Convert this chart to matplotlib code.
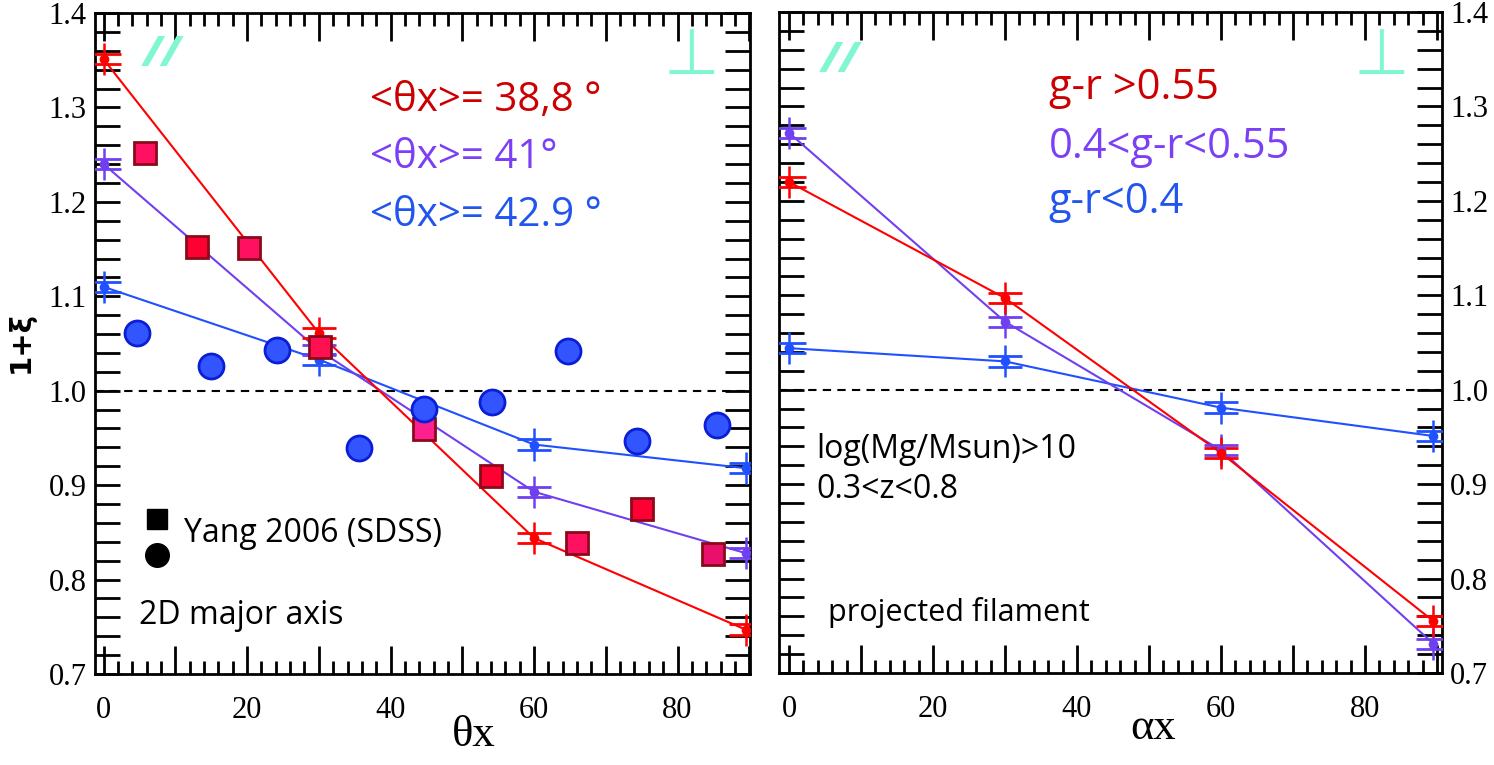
import matplotlib
matplotlib.use('Agg')
import matplotlib.pyplot as plt
from matplotlib.ticker import MultipleLocator, FuncFormatter

# Data: left panel (2D major axis), bins in theta_x
theta = [0, 30, 60, 89.5]
red_l = [1.351, 1.061, 0.844, 0.747]
purple_l = [1.240, 1.043, 0.893, 0.828]
blue_l = [1.110, 1.033, 0.943, 0.918]

# Yang 2006 (SDSS) points
yang_sq_x = [5.8, 13.0, 20.3, 30.2, 44.6, 54.0, 66.0, 75.0, 85.0]
yang_sq_y = [1.252, 1.152, 1.151, 1.046, 0.959, 0.910, 0.839, 0.875, 0.827]
yang_sq_col = ['#FF1060', '#FF0033', '#FF1060', '#FF1050', '#FF2090',
               '#FF0033', '#FF1060', '#FF0033', '#E8106A']
yang_ci_x = [4.6, 15.0, 24.2, 35.6, 44.6, 54.2, 64.8, 74.4, 85.5]
yang_ci_y = [1.061, 1.026, 1.043, 0.939, 0.981, 0.988, 1.042, 0.947, 0.964]

# right panel (projected filament), bins in alpha_x
alpha = [0, 30, 60, 89.5]
red_r = [1.220, 1.097, 0.933, 0.755]
purple_r = [1.272, 1.072, 0.936, 0.731]
blue_r = [1.044, 1.030, 0.981, 0.951]

# error bars: vertical extent and cap offset
err_bar = 0.017
err_cap = 0.0055

c_red, c_pur, c_blu = '#FF0000', '#7040F0', '#2050FF'
t_red, t_pur, t_blu = '#CC0000', '#7B3FF5', '#2255EE'
aqua = '#80F7D2'
sans = ['Open Sans', 'DejaVu Sans']

plt.rcParams['font.family'] = ['Liberation Serif', 'DejaVu Serif']

fig = plt.figure(figsize=(14.94, 7.65), dpi=100)
W, H = 1494, 765
ax1 = fig.add_axes([95 / W, 1 - 674 / H, 655 / W, 661 / H])
ax2 = fig.add_axes([779 / W, 1 - 673 / H, 663 / W, 661 / H])


def draw_series(ax, x, y, col):
    ax.plot(x, y, color=col, lw=1.5, zorder=3)
    ax.errorbar(x, y, yerr=err_bar, fmt='o', color=col, ms=6, elinewidth=1.8,
                capsize=0, zorder=4)
    ax.plot(x, [v + err_cap for v in y], ls='none', marker='_', ms=24, mew=2,
            color=col, zorder=4)
    ax.plot(x, [v - err_cap for v in y], ls='none', marker='_', ms=24, mew=2,
            color=col, zorder=4)


def style(ax, xlim, right):
    ax.set_xlim(*xlim)
    ax.set_ylim(0.7, 1.4)
    ax.axhline(1.0, color='black', ls=(0, (4, 3)), lw=1.5, zorder=1)
    ax.xaxis.set_major_locator(MultipleLocator(10))
    ax.xaxis.set_minor_locator(MultipleLocator(2))
    ax.xaxis.set_major_formatter(FuncFormatter(
        lambda v, p: '%d' % v if int(round(v)) % 20 == 0 else ''))
    ax.yaxis.set_major_locator(MultipleLocator(0.1))
    ax.yaxis.set_minor_locator(MultipleLocator(0.02))
    ax.yaxis.set_major_formatter(FuncFormatter(lambda v, p: '%.1f' % v))
    ax.tick_params(axis='both', which='both', direction='in', top=True,
                   right=True, width=2, labelsize=22)
    ax.tick_params(axis='x', which='major', length=20, pad=16)
    ax.tick_params(axis='x', which='minor', length=9.5)
    ax.tick_params(axis='y', which='both', length=18, pad=6)
    if right:
        ax.tick_params(axis='y', which='both', labelleft=False, labelright=True)
    for s in ax.spines.values():
        s.set_linewidth(2)


style(ax1, (-1.2, 90.1), False)
style(ax2, (-1.4, 90.7), True)

# left panel
ax1.plot(yang_ci_x, yang_ci_y, 'o', ls='none', ms=18, mfc='#3355FF',
         mec='#0A1ED8', mew=2, zorder=6)
for xs, ys, fc in zip(yang_sq_x, yang_sq_y, yang_sq_col):
    ax1.plot(xs, ys, 's', ms=16, mfc=fc, mec='#8B0A1A', mew=2, zorder=5)
draw_series(ax1, theta, blue_l, c_blu)
draw_series(ax1, theta, purple_l, c_pur)
draw_series(ax1, theta, red_l, c_red)

ax1.text(0.42, 0.868, '<θx>= 38,8 °', color=t_red, fontsize=29, family=sans,
         transform=ax1.transAxes, va='center')
ax1.text(0.42, 0.781, '<θx>= 41°', color=t_pur, fontsize=29, family=sans,
         transform=ax1.transAxes, va='center')
ax1.text(0.42, 0.694, '<θx>= 42.9 °', color=t_blu, fontsize=29, family=sans,
         transform=ax1.transAxes, va='center')
ax1.text(0.102, 0.936, '//', color=aqua, fontsize=30, weight='heavy',
         style='italic', family=sans, transform=ax1.transAxes,
         ha='center', va='center')
ax1.text(0.911, 0.935, '⊥', color=aqua, fontsize=46, family='DejaVu Sans',
         transform=ax1.transAxes, ha='center', va='center')
ax1.plot([0.095], [0.234], 's', color='black', ms=15, transform=ax1.transAxes)
ax1.plot([0.095], [0.180], 'o', color='black', ms=17, transform=ax1.transAxes)
ax1.text(0.136, 0.213, 'Yang 2006 (SDSS)', fontsize=23, family=sans,
         transform=ax1.transAxes, va='center')
ax1.text(0.067, 0.089, '2D major axis', fontsize=23, family=sans,
         transform=ax1.transAxes, va='center')

# right panel
draw_series(ax2, alpha, blue_r, c_blu)
draw_series(ax2, alpha, purple_r, c_pur)
draw_series(ax2, alpha, red_r, c_red)

ax2.text(0.407, 0.885, 'g-r >0.55', color=t_red, fontsize=30, family=sans,
         transform=ax2.transAxes, va='center')
ax2.text(0.407, 0.796, '0.4<g-r<0.55', color=t_pur, fontsize=30, family=sans,
         transform=ax2.transAxes, va='center')
ax2.text(0.407, 0.713, 'g-r<0.4', color=t_blu, fontsize=30, family=sans,
         transform=ax2.transAxes, va='center')
ax2.text(0.092, 0.926, '//', color=aqua, fontsize=30, weight='heavy',
         style='italic', family=sans, transform=ax2.transAxes,
         ha='center', va='center')
ax2.text(0.909, 0.933, '⊥', color=aqua, fontsize=46, family='DejaVu Sans',
         transform=ax2.transAxes, ha='center', va='center')
ax2.text(0.056, 0.338, 'log(Mg/Msun)>10', fontsize=23, family=sans,
         transform=ax2.transAxes, va='center')
ax2.text(0.056, 0.277, '0.3<z<0.8', fontsize=23, family=sans,
         transform=ax2.transAxes, va='center')
ax2.text(0.074, 0.091, 'projected filament', fontsize=22, family=sans,
         transform=ax2.transAxes, va='center')

# axis labels
fig.text(0.317, 0.039, 'θx', fontsize=32, ha='center', va='center')
fig.text(0.772, 0.048, 'αx', fontsize=32, ha='center', va='center')
fig.text(0.014, 0.553, '1+ξ', fontsize=21, rotation=90, family='DejaVu Sans',
         weight='bold', ha='center', va='center')

fig.savefig('out.png', dpi=100)
